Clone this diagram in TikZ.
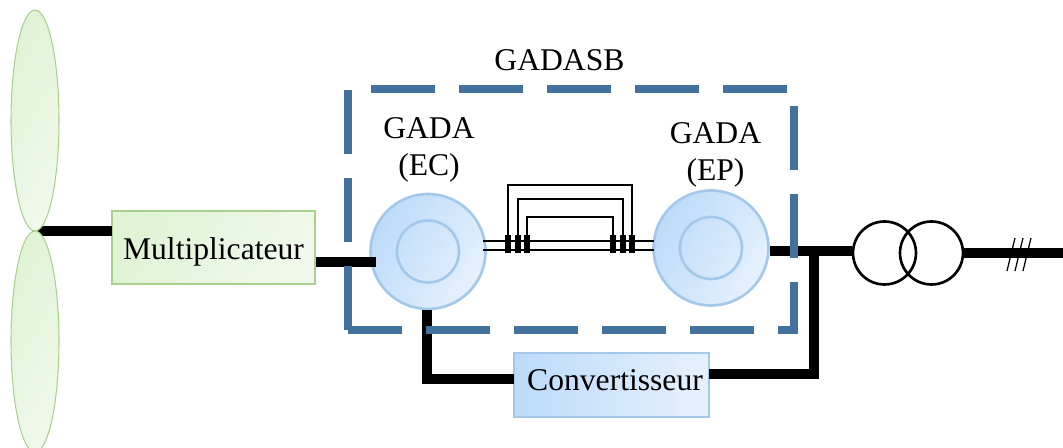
\documentclass[tikz,border=0pt]{standalone}
\usepackage{fontspec}
\setmainfont{Liberation Serif}
\usetikzlibrary{shapes.geometric}
\usetikzlibrary{calc}

\definecolor{blade}{HTML}{A9D18E}
\definecolor{bladedark}{HTML}{DFF3D5}
\definecolor{bladelight}{HTML}{F0F9EB}
\definecolor{machine}{HTML}{A3C8EA}
\definecolor{machinedark}{HTML}{BCDBFA}
\definecolor{machinelight}{HTML}{E6F1FD}
\definecolor{frame}{HTML}{41719C}

\tikzset{
    boxlabel/.style={inner sep=0pt, font=\fontsize{18}{21}\selectfont, align=center},
    bladeshape/.style={ellipse, draw=blade, line width=.6pt, inner sep=0pt, minimum width=.96cm, minimum height=4.42cm, left color=bladedark, right color=bladelight, shading angle=60},
    greenbox/.style={boxlabel, draw=blade, line width=1.2pt, minimum width=4.06cm, minimum height=1.46cm, left color=bladedark, right color=bladelight, shading angle=60},
    bluebox/.style={boxlabel, draw=machine, line width=1.2pt, minimum width=3.9cm, minimum height=1.28cm, left color=machinedark, right color=machinelight},
    rotor/.style={circle, draw=machine, line width=1.5pt, inner sep=0pt, minimum size=2.3cm, left color=machinedark, right color=machinelight, shading angle=60},
    rotorcore/.style={circle, draw=machine, line width=1.5pt, inner sep=0pt, minimum size=1.24cm},
    winding/.style={circle, draw, line width=1.5pt, inner sep=0pt, minimum size=1.26cm},
    busbar/.style={line width=5.4pt},
    shaft/.style={line width=.9pt},
    coupler/.style={fill=black, inner sep=0pt, minimum width=.12cm, minimum height=.36cm},
}

\begin{document}
\begin{tikzpicture}[x=.02cm, y=-.02cm]
    \useasboundingbox (0, 0) rectangle (1063, 448);

    % machines
    \node[rotor] (ec) at (428, 251.5) {};
    \node[rotorcore] (eccore) at (428, 251.5) {};
    \node[rotor] (ep) at (711, 248) {};
    \node[rotorcore] (epcore) at (711, 248) {};

    % transformer
    \node[winding] (tra) at (884.5, 253) {};
    \node[winding] (trb) at (931.5, 253) {};

    % boxes
    \node[greenbox, text height=16pt, text depth=1.8pt] (mult) at (213.5, 247.5) {Multiplicateur};
    \node[bluebox, text height=10pt, text depth=3.2pt] (conv) at (611.5, 385) {\hspace{4pt}Convertisseur};

    \coordinate (convin) at (514, 379);
    \coordinate (convout) at (709, 374);
    \coordinate (multin) at (112, 231);
    \coordinate (ecin) at (376, 262);
    \coordinate (junction) at (814, 251);
    \coordinate (gridend) at (1063, 253);
    \coordinate (hub) at (35, 231);

    % power lines
    \begin{scope}[busbar]
        \draw (hub) -- (multin);
        \draw (mult.east |- ecin) -- (ecin);
        \draw (ec.south) ++(-1, 0) |- (convin);
        \draw (ep.east |- junction) -- (junction) -- (tra.west |- junction);
        \draw (convout) -| (junction);
        \draw (trb.east) -- (gridend);
    \end{scope}

    % turbine
    \node[bladeshape] (bladetop) at (35, 120.5) {};
    \node[bladeshape] (bladebot) at (35, 341.5) {};

    % mechanical link
    \coordinate (shafta) at (483, 241);
    \coordinate (shaftb) at (483, 250);
    \coordinate (shaftc) at (654, 241);
    \coordinate (shaftd) at (654, 250);
    \draw[shaft] (shafta) -- (shaftc);
    \draw[shaft] (shaftb) -- (shaftd);
    \foreach \name/\x in {a1/508, a2/518, a3/527, b1/613, b2/623, b3/632}
        \node[coupler] (\name) at (\x, 244) {};
    \coordinate (linka) at (570, 185);
    \coordinate (linkb) at (570, 199);
    \coordinate (linkc) at (570, 217);
    \draw[shaft] (a1.north) |- (linka) -| (b3.north);
    \draw[shaft] (a2.north) |- (linkb) -| (b2.north);
    \draw[shaft] (a3.north) |- (linkc) -| (b1.north);

    % three phases
    \foreach \x in {1007, 1015, 1023}
        \draw[line width=.7pt] (\x, 271) -- (\x + 8, 238);

    % dashed enclosure
    \draw[frame, line width=4.6pt, dash pattern=on 1.28cm off .48cm] (348, 330) rectangle (794, 89);

    % labels
    \node[boxlabel] (gadasb) at (559.5, 60) {GADASB};
    \node[boxlabel] (ectext) at (429, 150) {GADA\\(EC)};
    \node[boxlabel] (eptext) at (715.5, 155) {GADA\\(EP)};
\end{tikzpicture}
\end{document}
